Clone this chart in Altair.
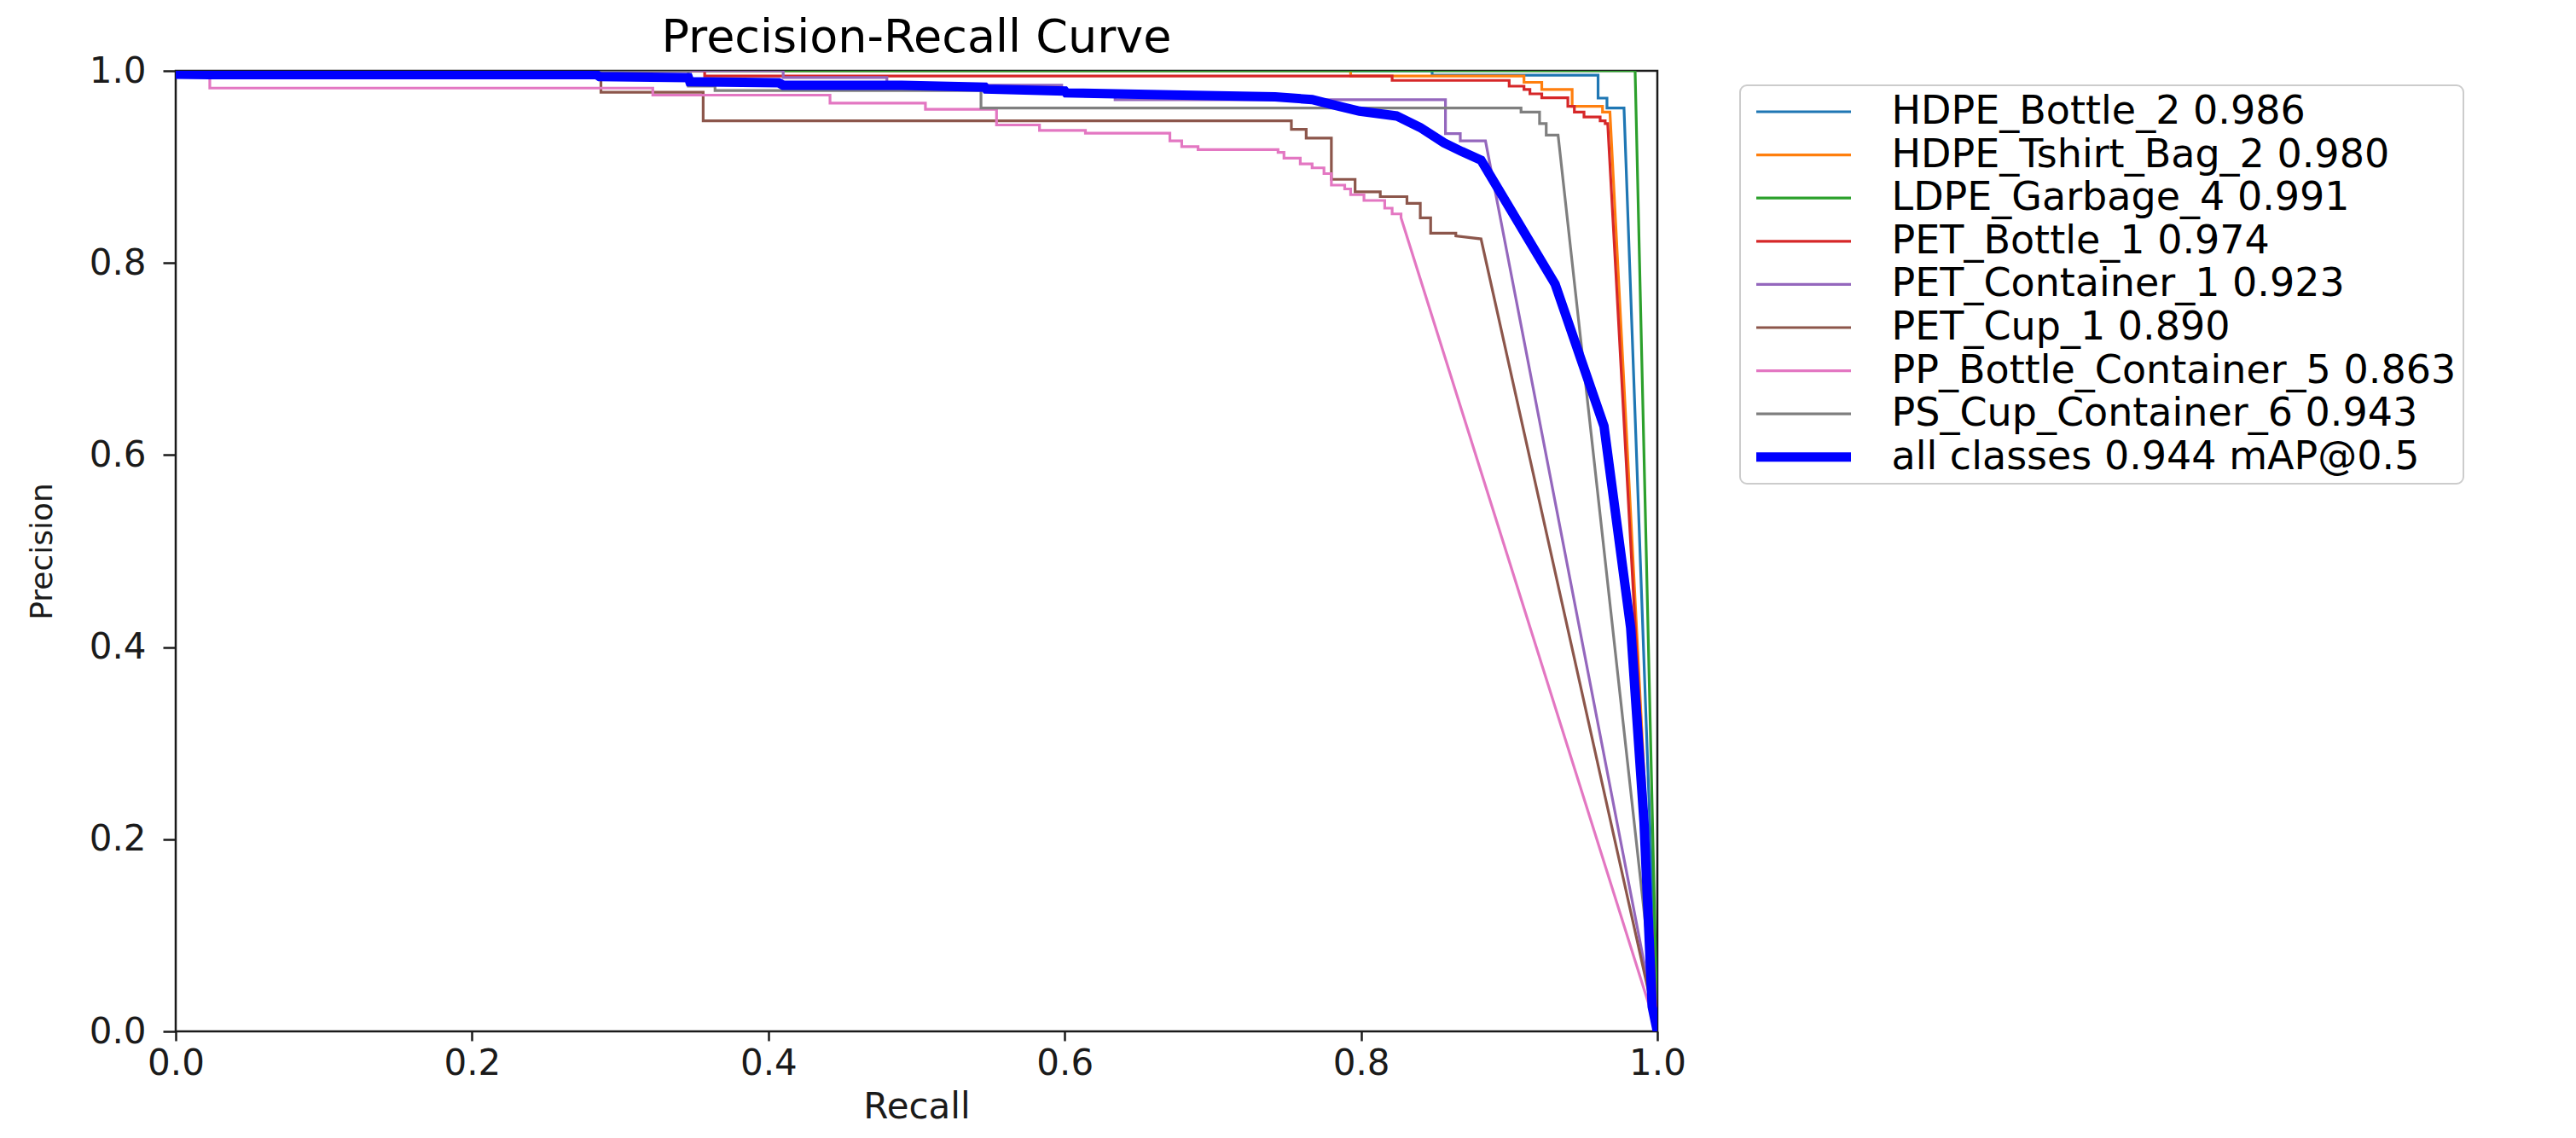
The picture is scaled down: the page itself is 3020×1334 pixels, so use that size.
import altair as alt
import pandas as pd

series_names = [
    "HDPE_Bottle_2 0.986",
    "HDPE_Tshirt_Bag_2 0.980",
    "LDPE_Garbage_4 0.991",
    "PET_Bottle_1 0.974",
    "PET_Container_1 0.923",
    "PET_Cup_1 0.890",
    "PP_Bottle_Container_5 0.863",
    "PS_Cup_Container_6 0.943",
    "all classes 0.944 mAP@0.5",
]
series_colors = ["#1f77b4", "#ff7f0e", "#2ca02c", "#d62728", "#9467bd",
                 "#8c564b", "#e377c2", "#7f7f7f", "#0000ff"]
series_widths = [3.2, 3.2, 3.2, 3.2, 3.2, 3.2, 3.2, 3.2, 11]

hdpe_bottle_recall = [0.0, 0.848, 0.848, 0.960, 0.960, 0.966, 0.966, 0.9775, 1.0]
hdpe_bottle_precision = [1.0, 1.0, 0.9955, 0.9955, 0.9716, 0.9716, 0.9613, 0.9613, 0.0]

hdpe_bag_recall = [0.0, 0.793, 0.793, 0.910, 0.910, 0.922, 0.922, 0.9425, 0.9425,
                   0.963, 0.963, 0.968, 1.0]
hdpe_bag_precision = [1.0, 1.0, 0.9945, 0.9945, 0.988, 0.988, 0.9805, 0.9805, 0.963,
                      0.963, 0.957, 0.957, 0.0]

ldpe_recall = [0.0, 0.985, 1.0]
ldpe_precision = [1.0, 1.0, 0.0]

pet_bottle_recall = [0.0, 0.357, 0.357, 0.821, 0.821, 0.900, 0.900, 0.910, 0.910,
                     0.914, 0.914, 0.922, 0.922, 0.9396, 0.9396, 0.944, 0.944,
                     0.9505, 0.9505, 0.9614, 0.9614, 0.9648, 0.9648, 0.9665, 1.0]
pet_bottle_precision = [1.0, 1.0, 0.9945, 0.9945, 0.990, 0.990, 0.984, 0.984, 0.9805,
                        0.9805, 0.976, 0.976, 0.972, 0.972, 0.963, 0.963, 0.957,
                        0.957, 0.952, 0.952, 0.948, 0.948, 0.945, 0.945, 0.0]

pet_container_recall = [0.0, 0.41, 0.41, 0.48, 0.48, 0.598, 0.598, 0.634, 0.634,
                        0.857, 0.857, 0.867, 0.867, 0.884, 1.0]
pet_container_precision = [1.0, 1.0, 0.993, 0.993, 0.985, 0.985, 0.978, 0.978, 0.970,
                           0.970, 0.9347, 0.9347, 0.927, 0.927, 0.0]

pet_cup_recall = [0.0, 0.287, 0.287, 0.356, 0.356, 0.753, 0.753, 0.763, 0.763, 0.780,
                  0.780, 0.796, 0.796, 0.813, 0.813, 0.831, 0.831, 0.840, 0.840,
                  0.847, 0.847, 0.864, 0.864, 0.881, 1.0]
pet_cup_precision = [1.0, 1.0, 0.9777, 0.9777, 0.948, 0.948, 0.939, 0.939, 0.930,
                     0.930, 0.887, 0.887, 0.874, 0.874, 0.869, 0.869, 0.862, 0.862,
                     0.847, 0.847, 0.831, 0.831, 0.828, 0.825, 0.0]

pp_recall = [0.0, 0.023, 0.023, 0.322, 0.322, 0.4416, 0.4416, 0.506, 0.506, 0.554,
             0.554, 0.583, 0.583, 0.614, 0.614, 0.671, 0.671, 0.679, 0.679, 0.690,
             0.690, 0.744, 0.744, 0.748, 0.748, 0.759, 0.759, 0.767, 0.767, 0.775,
             0.775, 0.780, 0.780, 0.789, 0.789, 0.793, 0.793, 0.802, 0.802, 0.816,
             0.816, 0.821, 0.821, 0.827, 0.827, 1.0]
pp_precision = [1.0, 1.0, 0.982, 0.982, 0.9747, 0.9747, 0.9663, 0.9663, 0.960, 0.960,
                0.9436, 0.9436, 0.938, 0.938, 0.935, 0.935, 0.927, 0.927, 0.921, 0.921,
                0.918, 0.918, 0.915, 0.915, 0.909, 0.909, 0.903, 0.903, 0.899, 0.899,
                0.893, 0.893, 0.881, 0.881, 0.877, 0.877, 0.871, 0.871, 0.865, 0.865,
                0.857, 0.857, 0.851, 0.851, 0.847, 0.0]

ps_recall = [0.0, 0.346, 0.346, 0.364, 0.364, 0.5435, 0.5435, 0.908, 0.908, 0.9205,
             0.9205, 0.925, 0.925, 0.933, 1.0]
ps_precision = [1.0, 1.0, 0.984, 0.984, 0.9795, 0.9795, 0.9613, 0.9613, 0.957, 0.957,
                0.945, 0.945, 0.933, 0.933, 0.0]

all_recall = [0.0, 0.0225, 0.284, 0.286, 0.346, 0.347, 0.407, 0.41, 0.49, 0.546,
              0.547, 0.60, 0.601, 0.672, 0.742, 0.767, 0.780, 0.799, 0.824, 0.840,
              0.856, 0.868, 0.881, 0.931, 0.964, 0.982, 0.991, 0.9965, 1.0]
all_precision = [0.9965, 0.996, 0.996, 0.994, 0.993, 0.9887, 0.9875, 0.985, 0.985,
                 0.983, 0.981, 0.979, 0.977, 0.975, 0.973, 0.970, 0.965, 0.958, 0.953,
                 0.941, 0.925, 0.916, 0.907, 0.778, 0.630, 0.420, 0.218, 0.026, 0.0]

curves = [
    (hdpe_bottle_recall, hdpe_bottle_precision),
    (hdpe_bag_recall, hdpe_bag_precision),
    (ldpe_recall, ldpe_precision),
    (pet_bottle_recall, pet_bottle_precision),
    (pet_container_recall, pet_container_precision),
    (pet_cup_recall, pet_cup_precision),
    (pp_recall, pp_precision),
    (ps_recall, ps_precision),
    (all_recall, all_precision),
]

rows = []
for name, (rec, prec) in zip(series_names, curves):
    for i, (r, p) in enumerate(zip(rec, prec)):
        rows.append({"series": name, "recall": r, "precision": p, "idx": i})
df = pd.DataFrame(rows)

tick_values = [0.0, 0.2, 0.4, 0.6, 0.8, 1.0]
FONT = "DejaVu Sans"


def make_legend():
    return alt.Legend(
        title=None, orient="none", legendX=1834, legendY=17,
        symbolType="stroke", symbolSize=12321, clipHeight=46, rowPadding=4.6,
        padding=8, labelFontSize=46, labelFont=FONT, labelColor="black",
        labelLimit=2000, strokeColor="#cccccc", cornerRadius=8, fillColor="white",
        symbolOffset=5.5, labelOffset=42,
    )


chart = alt.Chart(df).mark_line(clip=True, strokeJoin="miter", strokeCap="butt").encode(
    x=alt.X("recall:Q",
            scale=alt.Scale(domain=[0, 1], nice=False, zero=False),
            axis=alt.Axis(values=tick_values, format=".1f", title="Recall",
                          tickSize=11, labelPadding=6, titlePadding=10,
                          labelFlush=False, labelOverlap=False,
                          labelFontSize=42, titleFontSize=42)),
    y=alt.Y("precision:Q",
            scale=alt.Scale(domain=[0, 1], nice=False, zero=False),
            axis=alt.Axis(values=tick_values, format=".1f", title="Precision",
                          tickSize=15, labelPadding=20, titlePadding=36,
                          labelOverlap=False,
                          labelFontSize=42, titleFontSize=36)),
    color=alt.Color("series:N",
                    scale=alt.Scale(domain=series_names, range=series_colors),
                    legend=make_legend()),
    strokeWidth=alt.StrokeWidth("series:N",
                                scale=alt.Scale(type="ordinal", domain=series_names,
                                                range=series_widths),
                                legend=make_legend()),
    order=alt.Order("idx:Q"),
).properties(
    width=1737,
    height=1126,
    title=alt.TitleParams("Precision-Recall Curve", fontSize=54, font=FONT,
                          fontWeight="normal", anchor="middle", color="black",
                          offset=10, dy=20),
    autosize=alt.AutoSizeParams(type="none"),
    padding={"left": 198, "top": 75, "right": 1060, "bottom": 110},
    background="white",
).configure_view(
    stroke="#1a1a1a", strokeWidth=2.5
).configure_axis(
    grid=False, domain=False, ticks=True, tickColor="#1a1a1a", tickWidth=2.5,
    labelColor="#1a1a1a", titleColor="#1a1a1a", labelFont=FONT, titleFont=FONT,
    titleFontWeight="normal",
).configure_legend(
    strokeWidth=2
)

chart.save("out.html", embed_options={"renderer": "svg", "actions": False})
